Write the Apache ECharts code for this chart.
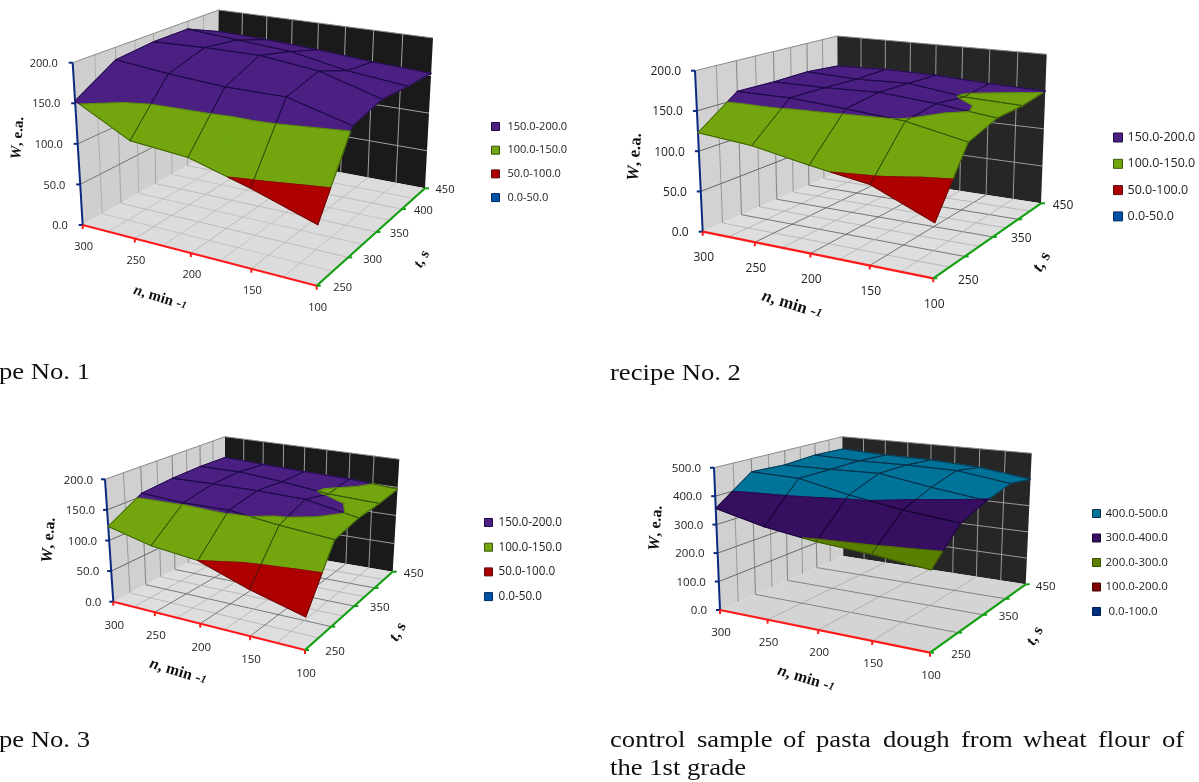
<!DOCTYPE html>
<html><head><meta charset="utf-8">
<style>html,body{margin:0;padding:0;background:#fff}#c{width:1199px;height:782px}</style>
<script src="https://cdn.jsdelivr.net/npm/echarts@6/dist/echarts.min.js"></script></head>
<body><div id="c"></div>
<script>
// n, min-1 across each row; t, s down the rows
const nValues=[300,250,200,150,100];
const tValues=[250,300,350,400,450];
const recipe1=[[153,118,113,93,69],[184,178,174,175,155],[189,192,193,185,163],[189,184,179,165,157],[169,167,163,157,153]];
const recipe2=[[123,117,104,93,62],[160,160,155,149,134],[159,159,161,155,146],[160,157,159,149,146],[156,158,157,153,150.5]];
const recipe3=[[123,107,100,73,51],[155,152,154,145,139],[160,162,163,162,146],[162,163,157,148,145],[161,158,155,153,147]];
const control=[[357,318,294,281,261],[452,448,411,382,363],[445,447,452,422,398],[453,448,450,448,421],[448,440,438,427,401]];
const ticks200=[0,50,100,150,200];
const ticks500=[0,100,200,300,400,500];
const bands200=[[150,200,'150.0-200.0','#4b2082','#1d0a45'],[100,150,'100.0-150.0','#73a50f','#35560a'],[50,100,'50.0-100.0','#af0000','#5a1010'],[0,50,'0.0-50.0','#0050a5','#002a60']];
const bands500=[[400,500,'400.0-500.0','#007399','#0b3048'],[300,400,'300.0-400.0','#360f60','#120530'],[200,300,'200.0-300.0','#5a8000','#3a5200'],[100,200,'100.0-200.0','#800000','#400000'],[0,100,' 0.0-100.0','#003080','#001a50']];

const FONT='"Open Sans"',SERIF='"Liberation Serif"';
const panels=[
 {W:recipe1,bands:bands200,ticks:ticks200,tShown:[250,300,350,400,450],fs:11,
  A:[82.7,225],B:[316.7,285.7],C:[425,188.3],D:[216.7,149],At:[72.7,62.7],Bt:[320,108.7],Ct:[433,38],Dt:[218.7,10],
  nOff:22,tOff:[26,20],wOff:15,back:'#1a1a1a',wall:'#cfcfcf',floor:'#dcdcdc',floorU:'#b4b4b4',floorV:'#b4b4b4',floorMin:'#bdbdbd',wallV:'#a8a8a8',wallH:'#777',backLine:'#a0a0a0',
  lg:{left:491,top:120,gap:10.7,size:11,text:3,box:8},
  wT:[18,138,15],nT:[160,298,15],tT:[422,259,15]},
 {W:recipe2,bands:bands200,ticks:ticks200,tShown:[250,350,450],fs:12,
  A:[702.7,231.7],B:[933.3,278.3],C:[1041,203.3],D:[838.3,172.3],At:[695,70.7],Bt:[938,99],Ct:[1046.7,54.3],Dt:[837.3,36],
  nOff:26,tOff:[35,22],wOff:14,back:'#262626',wall:'#d2d2d2',floor:'#dedede',floorU:'#5a5a5a',floorV:'#5a5a5a',floorMin:'#b0b0b0',wallV:'#8a8a8a',wallH:'#666',backLine:'#9a9a9a',
  lg:{left:1113,top:131,gap:13.3,size:12.5,text:0,box:9},
  wT:[635,157,17],nT:[792,305,17],tT:[1042,262,17]},
 {W:recipe3,bands:bands200,ticks:ticks200,tShown:[250,350,450],fs:11.5,
  A:[113.3,601.7],B:[305,650],C:[392.7,571.7],D:[225,543.3],At:[105,479.3],Bt:[308,520],Ct:[399.3,459.3],Dt:[225,436.7],
  nOff:24,tOff:[30,21],wOff:12,back:'#1a1a1a',wall:'#d0d0d0',floor:'#dedede',floorU:'#606060',floorV:'#606060',floorMin:'#b0b0b0',wallV:'#8a8a8a',wallH:'#666',backLine:'#9a9a9a',
  lg:{left:484,top:516,gap:11.7,size:11.7,text:1,box:8},
  wT:[49,540,16],nT:[178,672,16],tT:[398,632,16]},
 {W:control,bands:bands500,ticks:ticks500,tShown:[250,350,450],fs:11.5,
  A:[720,610],B:[930,652.7],C:[1025.7,584.3],D:[843.3,556],At:[714,467.7],Bt:[932,494],Ct:[1031.7,453.3],Dt:[842.3,436.7],
  nOff:23,tOff:[31,20],wOff:13,back:'#262626',wall:'#d0d0d0',floor:'#d4d4d4',floorU:'#a8a8a8',floorV:'#6e6e6e',floorMin:null,wallV:'#8a8a8a',wallH:'#6a6a6a',backLine:'#9a9a9a',
  lg:{left:1092,top:507,gap:11.5,size:11.5,text:0,box:8},
  wT:[656,528,16],nT:[806,679,16],tT:[1035,636,16]}
];
const captions=[
 ['pe No. 1',-1,373],['recipe No. 2',610,374],['pe No. 3',-1,741],
 ['control',610,741],['sample',697,741],['of',783,741],['pasta',816,741],['dough',883,741],['from',961,741],['wheat',1023,741],['flour',1098,741],['of',1162,741],
 ['the 1st grade',610,769]
];

function hom(q0,q1,q2,q3){const [x0,y0]=q0,[x1,y1]=q1,[x2,y2]=q2,[x3,y3]=q3;
 const dx1=x1-x2,dx2=x3-x2,sx=x0-x1+x2-x3,dy1=y1-y2,dy2=y3-y2,sy=y0-y1+y2-y3,den=dx1*dy2-dx2*dy1;
 const g=(sx*dy2-dx2*sy)/den,h=(dx1*sy-sx*dy1)/den,a=x1-x0+g*x1,b=x3-x0+h*x3,d=y1-y0+g*y1,e=y3-y0+h*y3;
 return (u,v)=>{const w=g*u+h*v+1;return [(a*u+b*v+x0)/w,(d*u+e*v+y0)/w];};}
panels.forEach(f=>{
 const F=hom(f.A,f.B,f.C,f.D),T=hom(f.At,f.Bt,f.Ct,f.Dt);
 f.max=f.ticks[f.ticks.length-1];
 f.project=(u,v,w)=>{const a=F(u,v),b=T(u,v),h=w/f.max;return [a[0]+(b[0]-a[0])*h,a[1]+(b[1]-a[1])*h];};
});

function clip(poly,lim,keepAbove){const out=[];
 for(let k=0;k<poly.length;k++){const a=poly[k],b=poly[(k+1)%poly.length];
  const ia=keepAbove?a[2]>=lim:a[2]<=lim,ib=keepAbove?b[2]>=lim:b[2]<=lim;
  if(ia)out.push(a);
  if(ia!==ib){const s=(lim-a[2])/(b[2]-a[2]);out.push([a[0]+(b[0]-a[0])*s,a[1]+(b[1]-a[1])*s,lim]);}}
 return out;}
// each grid cell is a fan of four triangles around its mean, as the spreadsheet surface does
function bandPolys(f,lo,hi){const res=[];
 for(let j=3;j>=0;j--)for(let i=0;i<4;i++){
  const q=[[i/4,j/4,f.W[j][i]],[(i+1)/4,j/4,f.W[j][i+1]],[(i+1)/4,(j+1)/4,f.W[j+1][i+1]],[i/4,(j+1)/4,f.W[j+1][i]]];
  const c=[(i+.5)/4,(j+.5)/4,(q[0][2]+q[1][2]+q[2][2]+q[3][2])/4];
  for(let k=0;k<4;k++){
   let p=clip([q[k],q[(k+1)%4],c],lo,true);if(p.length)p=clip(p,hi,false);
   if(p.length>2)res.push(p);}}
 return res;}
const near=(a,b)=>Math.abs(a-b)<1e-9;
const onGrid=x=>near(x*4,Math.round(x*4));

function frameItem(f){return function(params,api){
 const P=(u,v,w)=>api.coord(f.project(u,v,w));
 const kids=[];
 const poly=(pts,fill)=>kids.push({type:'polygon',shape:{points:pts},style:{fill,stroke:'none'}});
 const ln=(a,b,color,w)=>kids.push({type:'line',shape:{x1:a[0],y1:a[1],x2:b[0],y2:b[1]},style:{stroke:color,lineWidth:w}});
 const txt=(t,x,y,al)=>kids.push({type:'text',x,y,style:{text:t,fill:'#222',fontFamily:FONT,fontSize:f.fs,align:al,verticalAlign:'middle'}});
 const M=f.max;
 poly([P(0,0,0),P(0,1,0),P(0,1,M),P(0,0,M)],f.wall);
 poly([P(0,1,0),P(1,1,0),P(1,1,M),P(0,1,M)],f.back);
 poly([P(0,0,0),P(1,0,0),P(1,1,0),P(0,1,0)],f.floor);
 for(let k=1;k<8;k++){const s=k/8,maj=k%2===0;
  const cu=maj?f.floorU:f.floorMin,cv=maj?f.floorV:f.floorMin;
  if(cu)ln(P(s,0,0),P(s,1,0),cu,.8);
  if(cv)ln(P(0,s,0),P(1,s,0),cv,.8);
  ln(P(0,s,0),P(0,s,M),f.wallV,maj?1.1:.8);
  ln(P(s,1,0),P(s,1,M),f.backLine,1);}
 f.ticks.forEach(t=>{if(t===0)return;
  ln(P(0,0,t),P(0,1,t),t===M?'#8a8a8a':f.wallH,1);
  ln(P(0,1,t),P(1,1,t),t===M?'#8a8a8a':f.backLine,1);});
 ln(P(0,0,0),P(0,0,M),'#0a2a80',2);
 ln(P(0,0,0),P(1,0,0),'#ff1a1a',2.2);
 ln(P(1,0,0),P(1,1,0),'#12a012',2.2);
 f.ticks.forEach(t=>{const p=P(0,0,t);ln(p,[p[0]-4,p[1]],'#0a2a80',2);
  txt(t.toFixed(1),p[0]-f.wOff,p[1]+1,'right');});
 nValues.forEach((n,i)=>{const p=P(i/4,0,0);ln(p,[p[0],p[1]+4],'#ff1a1a',2);
  txt(String(n),p[0]+1,p[1]+f.nOff,'center');});
 tValues.forEach((t,j)=>{const p=P(1,j/4,0);ln(p,[p[0]+4,p[1]],'#12a012',2);
  if(f.tShown.indexOf(t)>=0)txt(String(t),p[0]+f.tOff[0]+(f.tOff[1]-f.tOff[0])*j/4,p[1]+2,'center');});
 return {type:'group',children:kids,silent:true};
};}

const series=[],legends=[];
panels.forEach(f=>{
 series.push({type:'custom',coordinateSystem:'cartesian2d',z:1,silent:true,data:[[0,0]],renderItem:frameItem(f),clip:false});
 f.bands.forEach((b,k)=>{
  const polys=bandPolys(f,b[0],b[1]);
  // fills first, so no neighbouring triangle can paint over a wire
  series.push({type:'custom',name:b[2],coordinateSystem:'cartesian2d',z:2+k*2,silent:true,clip:false,
   itemStyle:{color:b[3]},data:polys.map((p,idx)=>[idx,0]),
   renderItem(params,api){
    const pts=polys[params.dataIndex].map(q=>api.coord(f.project(q[0],q[1],q[2])));
    return {type:'polygon',shape:{points:pts},style:{fill:b[3],stroke:b[3],lineWidth:1.2,lineJoin:'round'}};
   }});
  series.push({type:'custom',coordinateSystem:'cartesian2d',z:3+k*2,silent:true,clip:false,
   data:polys.map((p,idx)=>[idx,0]),
   renderItem(params,api){
    const src=polys[params.dataIndex];
    const pts=src.map(q=>api.coord(f.project(q[0],q[1],q[2])));
    const kids=[];
    src.forEach((p,n)=>{const m=(n+1)%src.length,q=src[m];
     const grid=(near(p[0],q[0])&&onGrid(p[0]))||(near(p[1],q[1])&&onGrid(p[1]));
     const contour=(near(p[2],b[0])&&near(q[2],b[0]))||(near(p[2],b[1])&&near(q[2],b[1]));
     if(grid||contour)kids.push({type:'line',shape:{x1:pts[n][0],y1:pts[n][1],x2:pts[m][0],y2:pts[m][1]},style:{stroke:b[4],lineWidth:grid?.9:.5,opacity:grid?1:.7}});
    });
    return {type:'group',children:kids};
   }});
 });
 legends.push({show:true,orient:'vertical',left:f.lg.left,top:f.lg.top,padding:0,itemGap:f.lg.gap,itemWidth:f.lg.box,itemHeight:f.lg.box,selectedMode:false,icon:'rect',
  textStyle:{fontFamily:FONT,fontSize:f.lg.size,color:'#222',lineHeight:13,padding:[0,0,0,f.lg.text]},
  data:f.bands.map(b=>({name:b[2],itemStyle:{color:b[3],borderColor:b[4],borderWidth:1}}))});
});

const graphics=[];
panels.forEach(f=>{
 const rich=s=>({i:{fontFamily:SERIF,fontStyle:'italic',fontWeight:'bold',fontSize:s,fill:'#111'},r:{fontFamily:SERIF,fontWeight:'bold',fontSize:s,fill:'#111'},u:{fontFamily:SERIF,fontStyle:'italic',fontWeight:'bold',fontSize:s*.7,fill:'#111'}});
 const add=(t,p,rot)=>graphics.push({type:'text',x:p[0],y:p[1],rotation:rot,silent:true,style:{text:t,rich:rich(p[2]),align:'center',verticalAlign:'middle'}});
 add('{i|W}{r|, e.a.}',f.wT,1.5);
 add('{i|n}{r|, min -}{u|1}',f.nT,-0.3);
 add('{i|t}{r|, s}',f.tT,1.05);
});
captions.forEach(w=>graphics.push({type:'text',x:w[1],y:w[2],silent:true,scaleX:1.11,style:{text:w[0],fontFamily:SERIF,fontSize:24,fill:'#111',align:'left',verticalAlign:'middle'}}));

const chart=echarts.init(document.getElementById('c'),null,{renderer:'canvas'});
chart.setOption({animation:false,backgroundColor:'#fff',
 grid:{left:0,right:0,top:0,bottom:0},
 xAxis:{type:'value',min:0,max:1199,show:false},
 yAxis:{type:'value',min:0,max:782,inverse:true,show:false},
 legend:legends,series,graphic:{elements:graphics},tooltip:{show:false}});
</script></body></html>
